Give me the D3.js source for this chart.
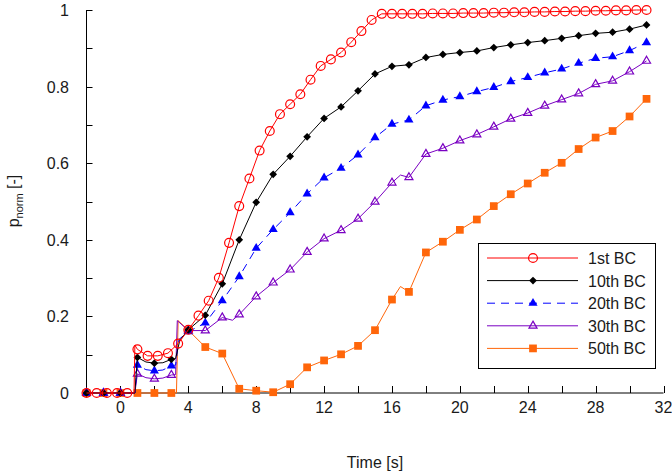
<!DOCTYPE html>
<html><head><meta charset="utf-8">
<script src="https://cdn.jsdelivr.net/npm/d3@7/dist/d3.min.js"></script>
<style>
body{margin:0;background:#fff}
svg{display:block}
text{font-family:"Liberation Sans",Arial,sans-serif;fill:#1a1a1a}
</style>
</head><body>
<svg id="chart" width="672" height="472"></svg>
<script>
// ---- data ----
const time1st = [-2,-1.4,-0.8,-0.2,0.4,1,1.6,2.2,2.8,3.4,4,4.6,5.2,5.8,6.4,7,7.6,8.2,8.8,9.4,10,10.6,11.2,11.8,12.4,13,13.6,14.2,14.8,15.4,16,16.6,17.2,17.8,18.4,19,19.6,20.2,20.8,21.4,22,22.6,23.2,23.8,24.4,25,25.6,26.2,26.8,27.4,28,28.6,29.2,29.8,30.4,31];
const bc1 = [0,0,0,0,0,0.114,0.097,0.097,0.104,0.129,0.165,0.202,0.241,0.301,0.392,0.488,0.560,0.633,0.684,0.728,0.754,0.780,0.818,0.854,0.871,0.889,0.916,0.945,0.974,0.990,0.990,0.990,0.990,0.990,0.991,0.991,0.991,0.992,0.992,0.992,0.993,0.993,0.994,0.994,0.995,0.995,0.996,0.996,0.997,0.997,0.998,0.998,0.999,0.999,1.0,1.0];
const timeStep = [-2,-1,0,1,2,3,4,5,6,7,8,9,10,11,12,13,14,15,16,17,18,19,20,21,22,23,24,25,26,27,28,29,30,31];
const bc10 = [0,0,0,0.093,0.078,0.088,0.165,0.203,0.285,0.400,0.498,0.571,0.618,0.669,0.717,0.747,0.789,0.833,0.853,0.857,0.876,0.884,0.889,0.893,0.902,0.909,0.915,0.920,0.926,0.933,0.939,0.942,0.950,0.961];
const bc20 = [0,0,0,0.073,0.058,0.071,0.160,0.183,0.241,0.304,0.378,0.427,0.471,0.520,0.562,0.587,0.622,0.667,0.702,0.713,0.750,0.765,0.774,0.787,0.798,0.813,0.824,0.836,0.846,0.861,0.874,0.878,0.894,0.915];
const bc30 = [0,0,0,0.050,0.037,0.047,0.163,0.163,0.197,0.205,0.252,0.288,0.322,0.368,0.403,0.425,0.455,0.499,0.549,0.563,0.624,0.639,0.659,0.675,0.695,0.716,0.731,0.750,0.766,0.782,0.806,0.815,0.839,0.867];
const bc50 = [0,0,0,0,0,0,0.164,0.120,0.103,0.011,0.006,0.002,0.023,0.067,0.085,0.101,0.123,0.164,0.244,0.264,0.367,0.395,0.426,0.453,0.488,0.519,0.547,0.575,0.601,0.637,0.667,0.684,0.722,0.768];
// line-only vertices (between markers)
const bc1Extra = [[0.8,0],[0.85,0.125]];
const bc10Extra = [[0.85,0],[1.5,0.081],[2.5,0.079],[3.25,0.09],[3.5,0.138]];
const bc20Extra = [[0.85,0],[1.5,0.061],[2.5,0.060],[3.25,0.073],[3.45,0.14]];
const bc30Extra = [[0.85,0],[1.5,0.040],[2.5,0.039],[3.25,0.048],[3.35,0.189],[6.6,0.19],[16.5,0.569]];
const bc50Extra = [[3.3,0],[3.4,0.189],[16.5,0.278]];
const seriesNames = ["1st BC","10th BC","20th BC","30th BC","50th BC"];
const xTickLabels = [0,4,8,12,16,20,24,28,32];
const xMinorTicks = [0,2,4,6,8,10,12,14,16,18,20,22,24,26,28,30,32];
const yTickLabels = [0,0.2,0.4,0.6,0.8,1];
const yMinorTicks = [0,0.1,0.2,0.3,0.4,0.5,0.6,0.7,0.8,0.9,1];

// ---- setup ----
const svg = d3.select("#chart");
const x = d3.scaleLinear().domain([-2,32]).range([86.5,663.5]);
const y = d3.scaleLinear().domain([0,1]).range([393,10]);

const styles = [
  {color:"#ff0000", dash:null, sym:d3.symbolCircle, size:62, fill:"none", rot:0, sw:1.2},
  {color:"#000000", dash:null, sym:d3.symbolSquare, size:30, fill:"#000000", rot:45, sw:0},
  {color:"#0000ff", dash:"8,6", sym:d3.symbolTriangle, size:36, fill:"#0000ff", rot:0, sw:0},
  {color:"#7a00c2", dash:null, sym:d3.symbolTriangle, size:28, fill:"none", rot:0, sw:1.2},
  {color:"#ff660a", dash:null, sym:d3.symbolSquare, size:60, fill:"#ff660a", rot:0, sw:0}
];
const series = [
  {times:time1st, vals:bc1, extra:bc1Extra},
  {times:timeStep, vals:bc10, extra:bc10Extra},
  {times:timeStep, vals:bc20, extra:bc20Extra},
  {times:timeStep, vals:bc30, extra:bc30Extra},
  {times:timeStep, vals:bc50, extra:bc50Extra}
];

// ---- axes ----
const ax = svg.append("g");
ax.append("line").attr("x1",x(-2)).attr("x2",x(32)).attr("y1",y(0)).attr("y2",y(0)).attr("stroke","#000");
ax.append("line").attr("x1",x(-2)).attr("x2",x(-2)).attr("y1",y(0)).attr("y2",y(1)).attr("stroke","#000");
ax.selectAll(".xt").data(xMinorTicks).join("line")
  .attr("x1",d=>Math.round(x(d))+0.5).attr("x2",d=>Math.round(x(d))+0.5)
  .attr("y1",y(0)).attr("y2",y(0)-7).attr("stroke","#000");
ax.selectAll(".yt").data(yMinorTicks).join("line")
  .attr("x1",x(-2)).attr("x2",x(-2)+6)
  .attr("y1",d=>Math.round(y(d))+0.5).attr("y2",d=>Math.round(y(d))+0.5).attr("stroke","#000");
ax.selectAll(".xl").data(xTickLabels).join("text")
  .attr("x",d=>x(d)).attr("y",413).attr("text-anchor","middle").attr("font-size",16).text(d=>d);
ax.selectAll(".yl").data(yTickLabels).join("text")
  .attr("x",69).attr("y",d=>y(d)+6).attr("text-anchor","end").attr("font-size",16).text(d=>d);
svg.append("text").attr("x",375).attr("y",468).attr("text-anchor","middle").attr("font-size",16).text("Time [s]");
const yl = svg.append("text").attr("transform","translate(19,201) rotate(-90)").attr("text-anchor","middle").attr("font-size",16);
yl.append("tspan").text("p");
yl.append("tspan").attr("font-size",11).attr("dy",4).text("norm");
yl.append("tspan").attr("dy",-4).text(" [-]");

// ---- series ----
const line = d3.line().x(d=>x(d[0])).y(d=>y(d[1]));
function marker(g, st, cx, cy){
  g.append("path").attr("d", d3.symbol().type(st.sym).size(st.size)())
    .attr("transform",`translate(${cx},${cy}) rotate(${st.rot})`)
    .attr("fill", st.fill).attr("stroke", st.fill==="none"?st.color:"none").attr("stroke-width",st.sw);
}
// draw back to front: 50th first
for (let i = series.length-1; i >= 0; i--){
  const s = series[i], st = styles[i];
  const pts = s.times.map((t,k)=>[t,s.vals[k]]);
  const all = pts.concat(s.extra).sort((a,b)=>a[0]-b[0]);
  const g = svg.append("g");
  g.append("path").attr("d", line(all)).attr("fill","none").attr("stroke",st.color)
    .attr("stroke-width",1).attr("stroke-dasharray",st.dash);
  pts.forEach(p=>marker(g, st, x(p[0]), y(p[1])));
}

// ---- legend ----
const lg = svg.append("g");
lg.append("rect").attr("x",478.5).attr("y",243.5).attr("width",177).attr("height",125)
  .attr("fill","#fff").attr("stroke","#000");
seriesNames.forEach((n,i)=>{
  const st = styles[i], cy = 258 + i*22.6;
  lg.append("line").attr("x1",487).attr("x2",578).attr("y1",cy).attr("y2",cy)
    .attr("stroke",st.color).attr("stroke-width",1).attr("stroke-dasharray",st.dash);
  marker(lg, st, 533, cy);
  lg.append("text").attr("x",588).attr("y",cy+6).attr("font-size",16).text(n);
});
</script>
</body></html>
